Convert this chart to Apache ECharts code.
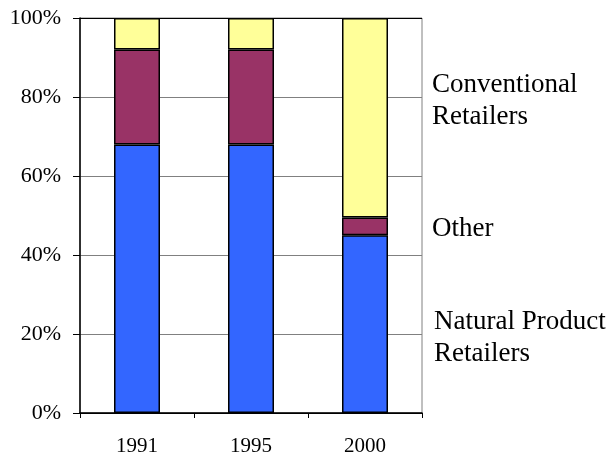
<!DOCTYPE html>
<html>
<head>
<meta charset="utf-8">
<script src="https://cdn.jsdelivr.net/npm/echarts@6/dist/echarts.min.js"></script>
<style>html,body{margin:0;padding:0;background:#fff}#c{width:608px;height:457px}</style>
</head>
<body>
<div id="c"></div>
<script>
var years = ['1991', '1995', '2000'];
var natural = [68, 68, 45];
var other = [24, 24, 4.5];
var conventional = [8, 8, 50.5];
var yTicks = [0, 20, 40, 60, 80, 100];
var seriesNames = ['Natural Product\nRetailers', 'Other', 'Conventional\nRetailers'];

var font = "'Liberation Serif', 'Times New Roman', serif";
var chart = echarts.init(document.getElementById('c'), null, {renderer: 'canvas'});
function bar(name, data, color) {
  return {
    name: name, type: 'bar', stack: 's', data: data, barWidth: 46,
    itemStyle: {color: color, borderColor: '#000', borderWidth: 1.5},
    silent: true
  };
}
chart.setOption({
  animation: false,
  backgroundColor: '#fff',
  grid: {left: 80, right: 186, top: 18, bottom: 42, show: true, borderColor: '#808080', borderWidth: 1},
  xAxis: {
    type: 'category', data: years,
    axisLine: {lineStyle: {color: '#000', width: 1.5}},
    axisTick: {show: true, length: 5, lineStyle: {color: '#000'}},
    axisLabel: {color: '#000', fontFamily: font, fontSize: 21, margin: 23}
  },
  yAxis: {
    type: 'value', min: yTicks[0], max: yTicks[yTicks.length - 1], interval: 20,
    axisLine: {show: true, lineStyle: {color: '#000', width: 1.5}},
    axisTick: {show: true, length: 7, lineStyle: {color: '#000'}},
    axisLabel: {color: '#000', fontFamily: font, fontSize: 22, margin: 19, formatter: '{value}%'},
    splitLine: {show: true, lineStyle: {color: ['#000', '#808080', '#808080', '#808080', '#808080', '#000'], width: 1}}
  },
  series: [
    bar(seriesNames[0], natural, '#3366FF'),
    bar(seriesNames[1], other, '#993366'),
    bar(seriesNames[2], conventional, '#FFFF99')
  ],
  graphic: [
    {type: 'text', left: 432, top: 69, style: {text: seriesNames[2], font: '27px ' + font, fill: '#000', lineHeight: 32}},
    {type: 'text', left: 432, top: 213, style: {text: seriesNames[1], font: '27px ' + font, fill: '#000', lineHeight: 32}},
    {type: 'text', left: 434, top: 306, style: {text: seriesNames[0], font: '27px ' + font, fill: '#000', lineHeight: 32}}
  ]
});
</script>
</body>
</html>
